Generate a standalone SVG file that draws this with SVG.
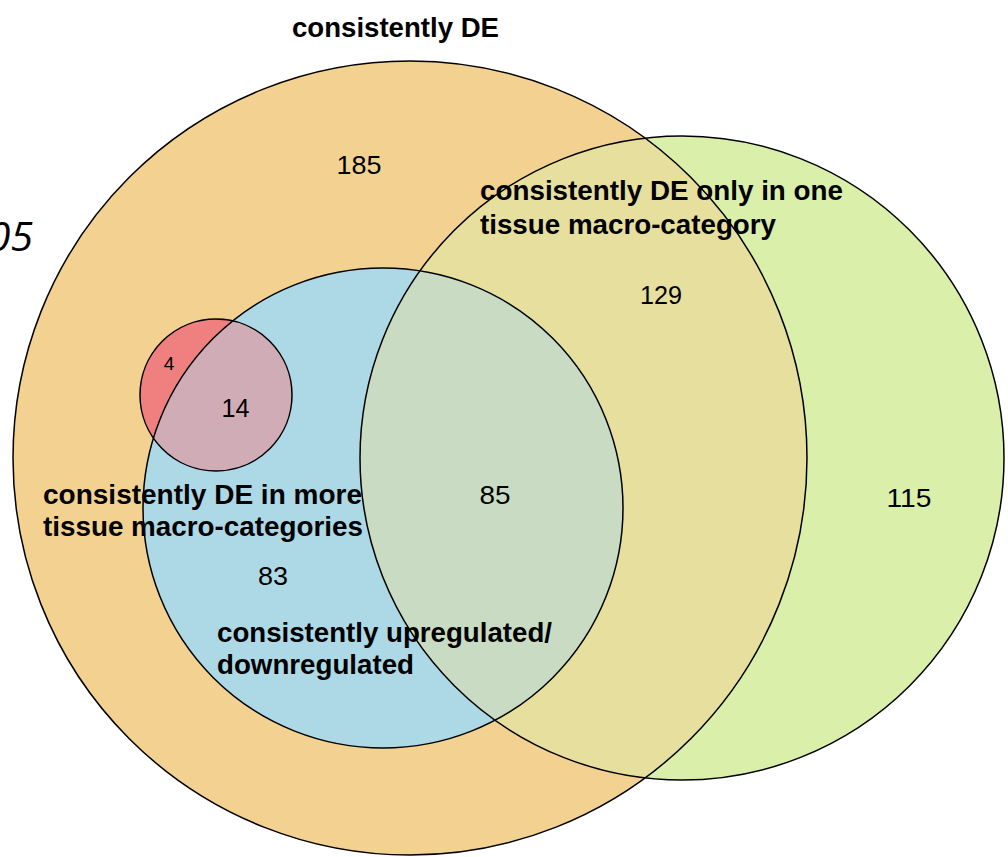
<svg xmlns="http://www.w3.org/2000/svg" width="1008" height="857" viewBox="0 0 1008 857">
<style>
.lbl{font-family:"Liberation Sans",Arial,sans-serif;font-weight:bold;font-size:27.5px;fill:#000}
.num{font-family:"Liberation Sans",Arial,sans-serif;font-size:26px;fill:#000;text-anchor:middle}
.edge{fill:none;stroke:#000;stroke-width:1.5}
</style>
<defs>
<clipPath id="cO"><circle cx="410" cy="458" r="397"/></clipPath>
<clipPath id="cG"><circle cx="682" cy="458" r="322"/></clipPath>
<clipPath id="cB"><circle cx="383" cy="508" r="240"/></clipPath>
</defs>
<rect width="1008" height="857" fill="#fff"/>
<text x="33" y="251" font-family="'Open Sans',sans-serif" font-style="italic" font-size="41" text-anchor="end">05</text>
<g id="fills">
<circle cx="410" cy="458" r="397" fill="#F3D291"/>
<circle cx="682" cy="458" r="322" fill="#D9EFAA"/>
<circle cx="682" cy="458" r="322" fill="#E6DF9D" clip-path="url(#cO)"/>
<circle cx="383" cy="508" r="240" fill="#ADD8E6"/>
<circle cx="383" cy="508" r="240" fill="#C9DCC3" clip-path="url(#cG)"/>
<circle cx="216" cy="395" r="76" fill="#F08080"/>
<circle cx="216" cy="395" r="76" fill="#D0ADB6" clip-path="url(#cB)"/>
</g>
<g id="node-de">
<circle class="edge" cx="410" cy="458" r="397"/>
</g>
<g id="node-one">
<circle class="edge" cx="682" cy="458" r="322"/>
</g>
<g id="node-more">
<circle class="edge" cx="383" cy="508" r="240"/>
</g>
<g id="node-updown">
<circle class="edge" cx="216" cy="395" r="76"/>
</g>
<g id="labels">
<text class="lbl" x="292" y="37" textLength="207" lengthAdjust="spacingAndGlyphs">consistently DE</text>
<text class="lbl" x="480" y="200" textLength="363" lengthAdjust="spacingAndGlyphs">consistently DE only in one</text>
<text class="lbl" x="480" y="234" textLength="296" lengthAdjust="spacingAndGlyphs">tissue macro-category</text>
<text class="lbl" x="43" y="504" textLength="319" lengthAdjust="spacingAndGlyphs">consistently DE in more</text>
<text class="lbl" x="43" y="536" textLength="320" lengthAdjust="spacingAndGlyphs">tissue macro-categories</text>
<text class="lbl" x="217" y="642" textLength="335" lengthAdjust="spacingAndGlyphs">consistently upregulated/</text>
<text class="lbl" x="217" y="674" textLength="197" lengthAdjust="spacingAndGlyphs">downregulated</text>
</g>
<g id="counts">
<text class="num" x="359" y="174" textLength="45" lengthAdjust="spacingAndGlyphs">185</text>
<text class="num" x="661" y="304" textLength="42" lengthAdjust="spacingAndGlyphs">129</text>
<text class="num" x="495" y="504" textLength="31" lengthAdjust="spacingAndGlyphs">85</text>
<text class="num" x="909" y="507" textLength="45" lengthAdjust="spacingAndGlyphs">115</text>
<text class="num" x="273" y="585" textLength="30" lengthAdjust="spacingAndGlyphs">83</text>
<text class="num" x="235.5" y="417" textLength="28" lengthAdjust="spacingAndGlyphs">14</text>
<text class="num" x="169" y="370" style="font-size:19px">4</text>
</g>
</svg>
